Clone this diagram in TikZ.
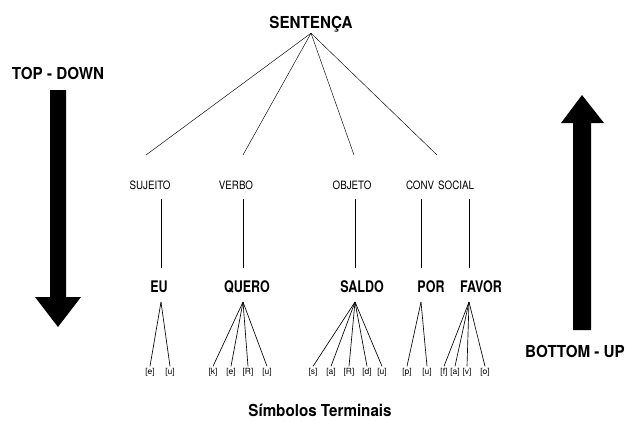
\documentclass[tikz,border=0pt]{standalone}
\usepackage{fontspec}
\setmainfont{TeX Gyre Heros}
\newfontfamily\headfont{TeX Gyre Heros}[FakeStretch=0.92]
\newfontfamily\catfont{TeX Gyre Heros}[FakeStretch=0.85]
\newfontfamily\wordfont{TeX Gyre Heros}[FakeStretch=0.78]
\begin{document}
\begin{tikzpicture}[x=1pt,y=-1pt,
  head/.style={font=\headfont\bfseries\fontsize{16.5}{18}\selectfont, inner sep=1pt},
  cat/.style={font=\catfont\fontsize{11.5}{13}\selectfont, inner sep=0pt},
  word/.style={font=\wordfont\bfseries\fontsize{16}{18}\selectfont, inner sep=0pt},
  phon/.style={font=\fontsize{8.5}{10}\selectfont, inner sep=1.5pt},
  thin/.style={line width=0.45pt},
  link/.style={line width=0.65pt},
  fatarrow/.style={fill=black, draw=none}]
\path[use as bounding box] (0,0) rectangle (634,420);

% root and the four constituents
\node[head] (sent) at (311,24) {SENTENÇA};
\node[cat] (suj)  at (150,185) {SUJEITO};
\node[cat] (verb) at (236,185) {VERBO};
\node[cat] (obj)  at (352,185) {OBJETO};
\node[cat] (conv) at (440,185) {CONV\hspace{4pt}SOCIAL};

\coordinate (e1) at (146,155);
\coordinate (e2) at (243,155);
\coordinate (e3) at (354,155);
\coordinate (e4) at (437,155);
\foreach \e in {e1,e2,e3,e4} \draw[thin] (sent.south) -- (\e);

% words
\node[word] (eu)    at (159,287) {EU};
\node[word] (quero) at (247,287) {QUERO};
\node[word] (saldo) at (362,287) {SALDO};
\node[word] (por)   at (431,287) {POR};
\node[word] (favor) at (481,287) {FAVOR};

% vertical links and the apexes of the phoneme fans
\foreach \n/\x in {a/161,b/243,c/355,d/421,f/469}{
  \coordinate (\n t) at (\x,199);
  \coordinate (\n b) at (\x,268);
  \coordinate (\n p) at (\x,302);
  \draw[link] (\n t) -- (\n b);
}

% terminal symbols
\node[phon] (p1)  at (150,372) {[e]};
\node[phon] (p2)  at (170,372) {[u]};
\node[phon] (p3)  at (213,372) {[k]};
\node[phon] (p4)  at (231,372) {[e]};
\node[phon] (p5)  at (248,372) {[R]};
\node[phon] (p6)  at (267,372) {[u]};
\node[phon] (p7)  at (313,372) {[s]};
\node[phon] (p8)  at (331,372) {[a]};
\node[phon] (p9)  at (349,372) {[R]};
\node[phon] (p10) at (367,372) {[d]};
\node[phon] (p11) at (382,372) {[u]};
\node[phon] (p12) at (407,372) {[p]};
\node[phon] (p13) at (427,372) {[u]};
\node[phon] (p14) at (444,372) {[f]};
\node[phon] (p15) at (455,372) {[a]};
\node[phon] (p16) at (467,372) {[v]};
\node[phon] (p17) at (485,372) {[o]};

\foreach \p in {p1,p2} \draw[link] (ap) -- (\p.north);
\foreach \p in {p3,p4,p5,p6} \draw[link] (bp) -- (\p.north);
\foreach \p in {p7,p8,p9,p10,p11} \draw[link] (cp) -- (\p.north);
\foreach \p in {p12,p13} \draw[link] (dp) -- (\p.north);
\foreach \p in {p14,p15,p16,p17} \draw[link] (fp) -- (\p.north);

% direction arrows
\node[head] (td) at (58,73) {TOP - DOWN};
\fill[fatarrow] (50,90) -- (66,90) -- (66,297) -- (81,297) -- (58,327)
  -- (35,297) -- (50,297) -- cycle;
\node[head] (bu) at (575,351) {BOTTOM - UP};
\fill[fatarrow] (582,95) -- (604,123) -- (591,123) -- (591,330)
  -- (573,330) -- (573,123) -- (561,123) -- cycle;

\node[head] (term) at (320,410) {Símbolos Terminais};
\end{tikzpicture}
\end{document}
